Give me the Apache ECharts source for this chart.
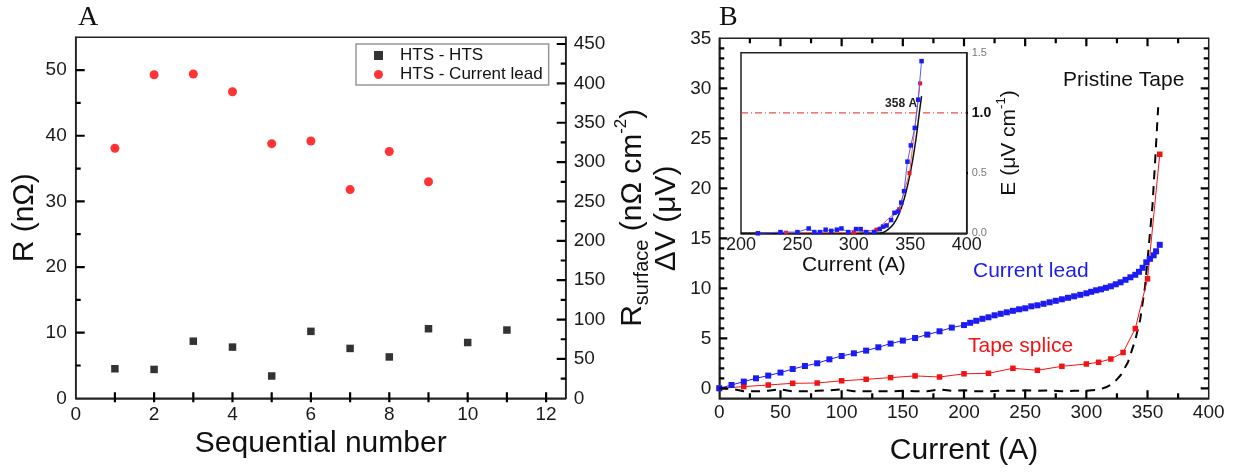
<!DOCTYPE html>
<html><head><meta charset="utf-8">
<script src="https://cdn.jsdelivr.net/npm/echarts@6/dist/echarts.min.js"></script>
<style>html,body{margin:0;padding:0;background:#fff}#c{width:1234px;height:474px}</style>
</head><body><div id="c"></div>
<script>
// ---------- Panel A data ----------
const seqHTS = [1,2,3,4,5,6,7,8,9,10,11];
const rHTS = [4.5,4.4,8.7,7.8,3.4,10.2,7.6,6.3,10.6,8.5,10.4];
const seqLead = [1,2,3,4,5,6,7,8,9];
const rLead = [38.1,49.3,49.4,46.7,38.8,39.2,31.8,37.6,33.0];
const aXLabels = [0,2,4,6,8,10,12];
const aYLabels = [0,10,20,30,40,50];
const aY2Labels = [0,50,100,150,200,250,300,350,400,450];
const aXTicks = [1,2,3,4,5,6,7,8,9,10,11,12];
const aYMajor = [10,20,30,40,50];
const aYMinor = [5,15,25,35,45];
const aY2Major = [50,100,150,200,250,300,350,400,450];
const aY2Minor = [25,75,125,175,225,275,325,375,425];

// ---------- Panel B data ----------
const leadI = [0,10,20,30,40,50,60,70,80,90,100,110,120,130,140,150,160,170,180,190,200,205,210,215,220,225,230,235,240,245,250,255,260,265,270,275,280,285,290,295,300,304,308,312,316,320,324,328,332,336,340,343,346,349,352,355,357,360];
const leadV = [0,0.33,0.67,1.0,1.27,1.57,1.93,2.23,2.5,2.9,3.23,3.5,3.77,4.1,4.47,4.77,5.03,5.37,5.7,6.07,6.32,6.55,6.75,6.95,7.1,7.3,7.45,7.6,7.75,7.9,8.0,8.2,8.3,8.45,8.6,8.75,8.9,9.05,9.2,9.35,9.5,9.65,9.8,9.9,10.05,10.2,10.4,10.6,10.85,11.1,11.35,11.65,12.05,12.6,12.95,13.3,13.7,14.35];
const spliceI = [0,20,40,60,80,100,120,140,160,180,200,220,240,260,280,300,310,320,330,340,350,360];
const spliceV = [0,0.17,0.33,0.5,0.53,0.75,0.9,1.07,1.24,1.13,1.45,1.5,2.0,1.8,2.2,2.43,2.6,2.93,3.58,5.97,10.95,23.4];
const tapeI = [0,10,20,30,40,50,60,70,80,90,100,110,120,130,140,150,160,170,180,190,200,210,220,230,240,250,260,270,280,290,300,310,316,322,328,334,340,344,348,350.5,354,356.3,358.7];
const tapeV = [0,-0.05,-0.3,-0.3,-0.25,-0.1,-0.3,-0.3,-0.25,-0.2,-0.1,-0.3,-0.3,-0.3,-0.3,-0.25,-0.3,-0.3,-0.1,-0.25,-0.2,-0.3,-0.3,-0.25,-0.25,-0.2,-0.25,-0.2,-0.3,-0.25,-0.25,-0.15,0.1,0.5,1.3,2.6,4.85,6.86,10.2,13.5,18.2,22.9,28.1];
const bXLabels = [0,50,100,150,200,250,300,350,400];
const bYLabels = [0,5,10,15,20,25,30,35];
const bXMajor = [50,100,150,200,250,300,350];
const bXMinor = [25,75,125,175,225,275,325,375];
const bYMajor = [0,5,10,15,20,25,30];
const bYMinor = [1,2,3,4,6,7,8,9,11,12,13,14,16,17,18,19,21,22,23,24,26,27,28,29,31,32,33,34];

// ---------- Inset data ----------
const inBlueI = [215,235,250,260,265,270,275,280,285,289,295,302,306,311,318,323,326,329,333,336,339,342,344.5,347.5,350.5,354,357,360];
const inBlueE = [0,0.01,0.01,0.04,0.01,0.01,0.03,0.02,0.03,0.04,0.01,0.035,0.035,0.01,0.01,0.035,0.055,0.065,0.11,0.17,0.18,0.255,0.35,0.595,0.73,0.875,1.11,1.43];
const inRedI = [240,300,320,340,349.3,358.7];
const inRedE = [0.005,0.005,0.03,0.2,0.5,1.245];
const inFitI = [200,250,300,320,325,330,335,340,345,350,355,358,360];
const inFitE = [0,0,0,0,0.005,0.03,0.075,0.16,0.3,0.5,0.78,1.0,1.14];
const critI = [200,400];
const critE = [1.0,1.0];
const inXLabels = [200,250,300,350,400];
const inYTicks = [0.5,1.0];
const icLabel = '358 A';

const FF = '"Liberation Sans", Arial, sans-serif';
const AX = '#222';
const TK = '#000';
const zip = (a, b) => a.map((v, i) => [v, b[i]]);
const showIf = list => v => (list.some(t => Math.abs(t - v) < 1e-9) ? String(v) : '');
const nameStyle = fs => ({fontSize: fs, fontFamily: FF, color: '#111'});

const G = [
  {left: 75.7, top: 37.3, width: 490, height: 361},
  {left: 719.3, top: 38.3, width: 489.4, height: 360},
  {left: 741, top: 52.7, width: 225.7, height: 180.6}
];
const R = {
  aX: [0, 12.5], aY: [0, 55], aY2: [0, 458.5],
  bX: [0, 400], bY: [-1, 35],
  iX: [200, 400], iY: [0, 1.5]
};
const perPx = (range, px) => (range[1] - range[0]) / px;

function axis(o) {
  return Object.assign({
    type: 'value', splitLine: {show: false},
    axisLine: {show: true, onZero: false, lineStyle: {color: AX, width: 1.5}},
    axisTick: {show: false},
    axisLabel: {show: true, margin: o.margin, fontSize: o.fs || 19, fontFamily: FF, color: '#1a1a1a',
      formatter: showIf(o.labels), showMinLabel: true, showMaxLabel: true}
  }, o.extra);
}

function tickLine(xi, yi, segs) {
  const data = [];
  segs.forEach(s => { data.push(s[0], s[1], ['-', '-']); });
  return {type: 'line', xAxisIndex: xi, yAxisIndex: yi, data, symbol: 'none', showSymbol: false,
    clip: false, silent: true, connectNulls: false, z: 10, animation: false,
    lineStyle: {color: TK, width: 2.2}, emphasis: {disabled: true}, tooltip: {show: false}};
}
const xTicks = (vals, base, lenIn, lenOut, dir) => vals.map(v => [[v, base - dir * lenOut], [v, base + dir * lenIn]]);
const yTicks = (vals, base, lenIn, lenOut, dir) => vals.map(v => [[base - dir * lenOut, v], [base + dir * lenIn, v]]);

const aXu = perPx(R.aX, G[0].width), aYu = perPx(R.aY, G[0].height);
const bXu = perPx(R.bX, G[1].width), bYu = perPx(R.bY, G[1].height);
const iXu = perPx(R.iX, G[2].width);

const xAxis = [
  axis({labels: aXLabels, margin: 7, extra: {gridIndex: 0, position: 'bottom', min: R.aX[0], max: R.aX[1], interval: 1,
    name: 'Sequential number', nameLocation: 'middle', nameGap: 27, nameTextStyle: nameStyle(30)}}),
  axis({labels: bXLabels, margin: 5, extra: {gridIndex: 1, position: 'bottom', min: R.bX[0], max: R.bX[1], interval: 50,
    name: 'Current (A)', nameLocation: 'middle', nameGap: 37, nameTextStyle: nameStyle(30)}}),
  axis({labels: inXLabels, margin: 3, fs: 18, extra: {gridIndex: 2, position: 'bottom', min: R.iX[0], max: R.iX[1], interval: 50,
    name: 'Current (A)', nameLocation: 'middle', nameGap: 21, nameTextStyle: nameStyle(21)}})
];

const yAxis = [
  axis({labels: aYLabels, margin: 9, extra: {gridIndex: 0, position: 'left', min: R.aY[0], max: R.aY[1], interval: 10,
    name: 'R (nΩ)', nameLocation: 'middle', nameGap: 36, nameRotate: 90, nameTextStyle: nameStyle(30)}}),
  axis({labels: aY2Labels, margin: 8, extra: {gridIndex: 0, position: 'right', min: R.aY2[0], max: R.aY2[1], interval: 50,
    name: '{m|R}{s|surface}{m| (nΩ cm}{p|-2}{m|)}', nameLocation: 'middle', nameGap: 47, nameRotate: 90,
    nameTextStyle: {rich: {
      m: {fontSize: 30, fontFamily: FF, color: '#111', lineHeight: 40, verticalAlign: 'middle'},
      s: {fontSize: 20, fontFamily: FF, color: '#111', lineHeight: 20, verticalAlign: 'bottom'},
      p: {fontSize: 17, fontFamily: FF, color: '#111', lineHeight: 17, verticalAlign: 'top'}
    }}}}),
  axis({labels: bYLabels, margin: 8, extra: {gridIndex: 1, position: 'left', min: R.bY[0], max: R.bY[1], interval: 1,
    name: 'ΔV (μV)', nameLocation: 'middle', nameGap: 38, nameRotate: 90, nameTextStyle: nameStyle(30)}}),
  axis({labels: [0, 0.5, 1, 1.5], margin: 4, extra: {gridIndex: 2, position: 'right', min: R.iY[0], max: R.iY[1], interval: 0.5,
    axisLabel: {show: true, margin: 5, fontSize: 11, fontFamily: FF, color: '#777',
      formatter: v => (Math.abs(v - critE[0]) < 1e-9 ? '{b|' + v.toFixed(1) + '}' : v.toFixed(1)),
      rich: {b: {fontSize: 14, fontWeight: 'bold', fontFamily: FF, color: '#111'}}},
    name: '{m|E (μV cm}{p|-1}{m|)}', nameLocation: 'middle', nameGap: 25, nameRotate: 90,
    nameTextStyle: {rich: {
      m: {fontSize: 21, fontFamily: FF, color: '#111', lineHeight: 28, verticalAlign: 'middle'},
      p: {fontSize: 13, fontFamily: FF, color: '#111', lineHeight: 13, verticalAlign: 'top'}
    }}}})
];

const BLUE = '#1c1cf2', RED = '#f01414';
const gridBase = {containLabel: false, outerBoundsMode: 'none', show: true, borderColor: AX, borderWidth: 1.5, backgroundColor: 'transparent'};

const option = {
  animation: false,
  backgroundColor: '#fff',
  grid: G.map(g => Object.assign({}, g, gridBase)),
  xAxis, yAxis,
  legend: {
    left: 356, top: 44, orient: 'vertical', itemGap: 2,
    padding: [3, 6, 2, 18], borderColor: '#999', borderWidth: 1.5,
    itemWidth: 9, itemHeight: 9,
    textStyle: {fontSize: 17, fontFamily: FF, color: '#111', padding: [0, 0, 0, 12]},
    data: [{name: 'HTS - HTS', icon: 'rect'}, {name: 'HTS - Current lead', icon: 'circle'}]
  },
  graphic: [
    {type: 'text', left: 78, top: 4, style: {text: 'A', font: '28px "Liberation Serif", "Times New Roman", serif', fill: '#111'}},
    {type: 'text', left: 719, top: 4, style: {text: 'B', font: '28px "Liberation Serif", "Times New Roman", serif', fill: '#111'}},
    {type: 'text', left: 1063, top: 70, style: {text: 'Pristine Tape', font: '21px ' + FF, fill: '#111'}},
    {type: 'text', left: 973, top: 261, style: {text: 'Current lead', font: '21px ' + FF, fill: BLUE}},
    {type: 'text', left: 968, top: 336, style: {text: 'Tape splice', font: '21px ' + FF, fill: RED}}
  ],
  series: [
    {name: 'HTS - HTS', type: 'scatter', xAxisIndex: 0, yAxisIndex: 0, symbol: 'rect', symbolSize: 7.5,
      itemStyle: {color: '#000'}, data: zip(seqHTS, rHTS)},
    {name: 'HTS - Current lead', type: 'scatter', xAxisIndex: 0, yAxisIndex: 0, symbol: 'circle', symbolSize: 9,
      itemStyle: {color: '#ff0000'}, data: zip(seqLead, rLead)},
    {name: 'Pristine Tape', type: 'line', xAxisIndex: 1, yAxisIndex: 2, showSymbol: false, symbol: 'none',
      lineStyle: {color: '#000', width: 2, type: [9, 7]}, data: zip(tapeI, tapeV), z: 3},
    {name: 'Tape splice', type: 'line', xAxisIndex: 1, yAxisIndex: 2, symbol: 'rect', symbolSize: 5.5,
      itemStyle: {color: RED}, lineStyle: {color: RED, width: 1}, data: zip(spliceI, spliceV), z: 4},
    {name: 'Current lead', type: 'line', xAxisIndex: 1, yAxisIndex: 2, symbol: 'rect', symbolSize: 6,
      itemStyle: {color: BLUE}, lineStyle: {color: BLUE, width: 1}, data: zip(leadI, leadV), z: 5},
    {name: 'Criterion', type: 'line', xAxisIndex: 2, yAxisIndex: 3, symbol: 'none',
      lineStyle: {color: '#e3241c', width: 1, type: [7, 3, 1, 3]}, data: zip(critI, critE), z: 2},
    {name: 'Fit', type: 'line', xAxisIndex: 2, yAxisIndex: 3, symbol: 'none', smooth: true,
      lineStyle: {color: '#111', width: 1.5}, data: zip(inFitI, inFitE), z: 3,
      markPoint: {symbol: 'circle', symbolSize: 0.1, data: [{coord: [357, 1.08]}],
        label: {show: true, position: 'left', distance: 1, formatter: icLabel, fontSize: 12, fontWeight: 'bold', fontFamily: FF, color: '#222'}}},
    {name: 'Inset splice', type: 'line', xAxisIndex: 2, yAxisIndex: 3, symbol: 'rect', symbolSize: 4,
      itemStyle: {color: RED}, lineStyle: {color: '#f06060', width: 1}, data: zip(inRedI, inRedE), z: 4},
    {name: 'Inset lead', type: 'line', xAxisIndex: 2, yAxisIndex: 3, symbol: 'rect', symbolSize: 4.5,
      itemStyle: {color: BLUE}, lineStyle: {color: '#5a5af5', width: 1}, data: zip(inBlueI, inBlueE), z: 5},
    // ---- tick marks ----
    tickLine(0, 0, [].concat(
      xTicks(aXTicks, R.aY[0], 6 * aYu, 4 * aYu, 1),
      yTicks(aYMajor, R.aX[0], 9 * aXu, 0, 1),
      yTicks(aYMinor, R.aX[0], 5 * aXu, 0, 1)
    )),
    tickLine(0, 1, [].concat(
      yTicks(aY2Major, R.aX[1], 9 * aXu, 0, -1),
      yTicks(aY2Minor, R.aX[1], 5 * aXu, 0, -1)
    )),
    tickLine(1, 2, [].concat(
      xTicks(bXMajor, R.bY[0], 8 * bYu, 0, 1),
      xTicks(bXMinor, R.bY[0], 5 * bYu, 0, 1),
      xTicks(bXMajor, R.bY[1], 8 * bYu, 0, -1),
      xTicks(bXMinor, R.bY[1], 5 * bYu, 0, -1),
      yTicks(bYMajor, R.bX[0], 8 * bXu, 0, 1),
      yTicks(bYMinor, R.bX[0], 5 * bXu, 0, 1),
      yTicks(bYMajor, R.bX[1], 8 * bXu, 0, -1),
      yTicks(bYMinor, R.bX[1], 5 * bXu, 0, -1)
    )),
    tickLine(2, 3, yTicks(inYTicks, R.iX[1], 0, 4 * iXu, -1))
  ]
};
const chart = echarts.init(document.getElementById('c'));
chart.setOption(option);
</script>
</body></html>
